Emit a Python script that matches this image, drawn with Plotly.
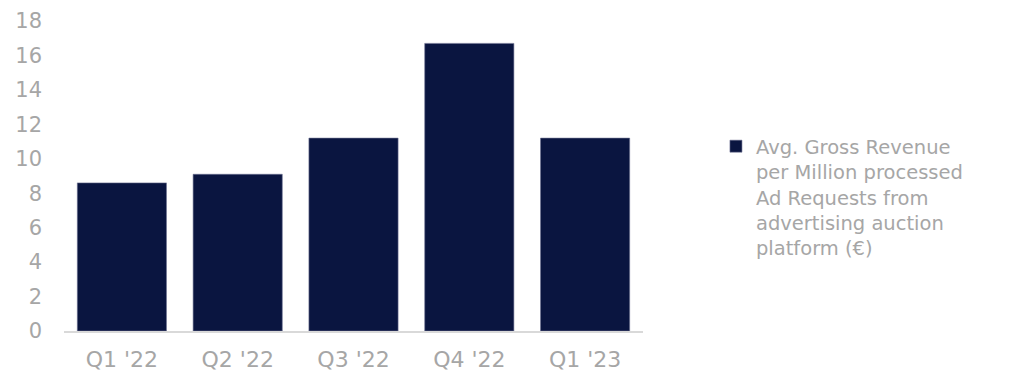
import plotly.graph_objects as go

categories = ["Q1 '22", "Q2 '22", "Q3 '22", "Q4 '22", "Q1 '23"]
values = [8.6, 9.1, 11.2, 16.7, 11.2]
series_name = "Avg. Gross Revenue<br>per Million processed<br>Ad Requests from<br>advertising auction<br>platform (€)"
y_ticks = [0, 2, 4, 6, 8, 10, 12, 14, 16, 18]

fig = go.Figure()
fig.add_trace(go.Bar(
    x=categories, y=values, name=series_name,
    marker=dict(color="#0a1540", line=dict(color="#6b7190", width=0.6)),
    showlegend=True,
))

fig.update_layout(
    width=1007, height=366,
    margin=dict(l=56, r=372, t=13, b=43, autoexpand=False),
    plot_bgcolor="white", paper_bgcolor="white",
    bargap=0.23,
    font=dict(family="DejaVu Sans, Liberation Sans, Arial, sans-serif", color="#a6a6a6", size=20),
    showlegend=True,
    legend=dict(
        x=1.126, xanchor="left", y=0.658, yanchor="top",
        font=dict(size=19.5, color="#a6a6a6"),
        valign="top", itemwidth=30, bgcolor="rgba(0,0,0,0)",
    ),
    xaxis=dict(
        showline=True, linecolor="#d9d9d9", linewidth=2,
        showgrid=False, ticks="", ticklabelstandoff=8, automargin=False,
        tickfont=dict(size=22, color="#a6a6a6"),
    ),
    yaxis=dict(
        range=[0, 18], tickvals=y_ticks, showgrid=False, zeroline=False,
        showline=False, ticks="", ticklabelstandoff=21, automargin=False,
        tickfont=dict(size=21, color="#a6a6a6"),
    ),
)

fig.write_html("out.html")
